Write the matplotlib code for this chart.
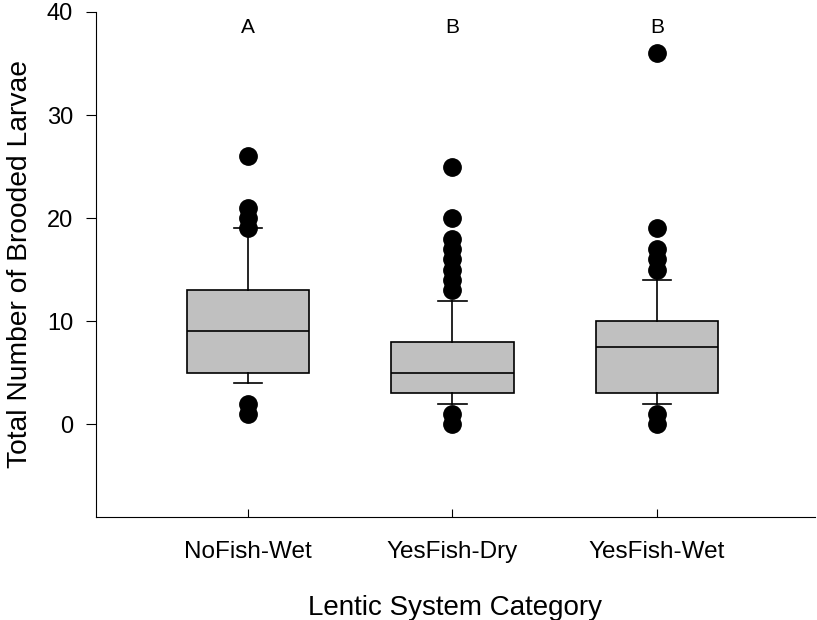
import matplotlib
matplotlib.use("Agg")
import matplotlib.pyplot as plt

plt.rcParams['font.family'] = ['Liberation Sans', 'DejaVu Sans']

# box statistics
categories = ["NoFish-Wet", "YesFish-Dry", "YesFish-Wet"]
q1 = [5, 3, 3]
medians = [9, 5, 7.5]
q3 = [13, 8, 10]
whisk_lo = [4, 2, 2]
whisk_hi = [19, 12, 14]
outliers = [
    [26, 21, 20, 19, 2, 1],
    [25, 20, 18, 17, 16, 15, 14, 13, 1, 0],
    [36, 19, 17, 16, 15, 1, 0],
]
letters = ["A", "B", "B"]

stats = []
for i in range(len(categories)):
    stats.append({
        "label": categories[i],
        "q1": q1[i], "med": medians[i], "q3": q3[i],
        "whislo": whisk_lo[i], "whishi": whisk_hi[i],
        "fliers": outliers[i],
    })

fig = plt.figure(figsize=(8.17, 6.2), dpi=100)
ax = fig.add_axes([96 / 817, 103 / 620, 719 / 817, 505 / 620])

pos = list(range(1, len(categories) + 1))
ax.bxp(stats, positions=pos, widths=0.6, patch_artist=True,
       boxprops=dict(facecolor="#c0c0c0", edgecolor="black", linewidth=1.2),
       medianprops=dict(color="black", linewidth=1.2),
       whiskerprops=dict(color="black", linewidth=1.2),
       capprops=dict(color="black", linewidth=1.2),
       capwidths=0.14,
       flierprops=dict(marker="o", markerfacecolor="black", markeredgecolor="black",
                       markersize=12.5, linestyle="none"))

for p, t in zip(pos, letters):
    ax.text(p, 38.5, t, ha="center", va="center", fontsize=15)

ax.set_xlim(0.257, 3.773)
ax.set_ylim(-9, 40)
ax.set_yticks([0, 10, 20, 30, 40])
ax.set_xticks(pos)
ax.set_xticklabels(categories)
ax.spines["top"].set_visible(False)
ax.spines["right"].set_visible(False)
ax.tick_params(axis="y", direction="out", length=7, labelsize=17, pad=9.5)
ax.tick_params(axis="x", direction="in", length=6, labelsize=17.5, pad=17)

ax.set_xlabel("Lentic System Category", fontsize=20, labelpad=23)
ax.set_ylabel("Total Number of Brooded Larvae", fontsize=20.3, labelpad=10)

fig.savefig("out.png", dpi=100)
